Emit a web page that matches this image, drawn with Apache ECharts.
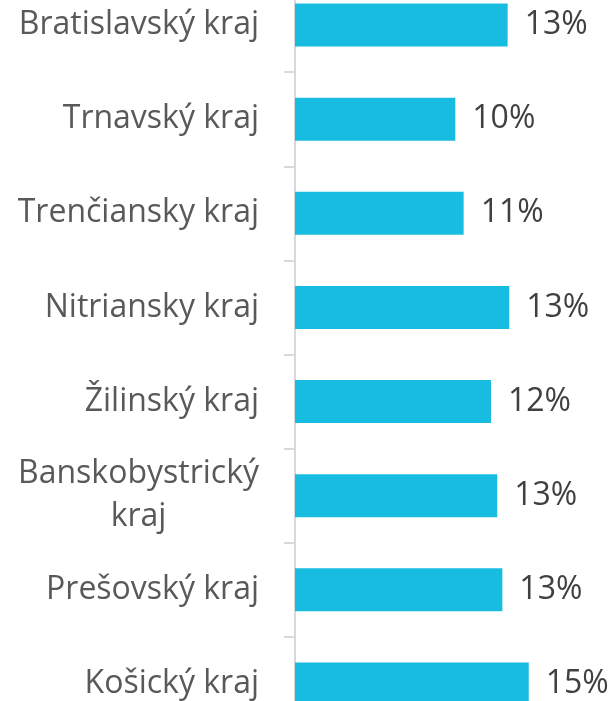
<!DOCTYPE html>
<html>
<head>
<meta charset="utf-8">
<script src="https://cdn.jsdelivr.net/npm/echarts@6/dist/echarts.min.js"></script>
<style>
  html, body { margin: 0; padding: 0; background: #ffffff; }
  #chart { width: 616px; height: 701px; }
</style>
</head>
<body>
<div id="chart"></div>
<script>
const categories = [
  'Bratislavský kraj',
  'Trnavský kraj',
  'Trenčiansky kraj',
  'Nitriansky kraj',
  'Žilinský kraj',
  'Banskobystrický kraj',
  'Prešovský kraj',
  'Košický kraj'
];
const values = [13.29, 10.02, 10.54, 13.39, 12.25, 12.64, 12.96, 14.61];

const FONT = '"Open Sans", "Noto Sans", sans-serif';

const chart = echarts.init(document.getElementById('chart'), null, { renderer: 'canvas' });
chart.setOption({
  animation: false,
  backgroundColor: '#ffffff',
  grid: { left: 293, right: 1, top: -22, bottom: -30, containLabel: false, outerBoundsMode: 'none' },
  xAxis: {
    type: 'value',
    min: -0.125,
    max: 20,
    show: false
  },
  yAxis: {
    type: 'category',
    data: categories,
    inverse: true,
    axisLine: { show: true, lineStyle: { color: '#d9d9d9', width: 2 } },
    axisTick: { show: true, length: 11, lineStyle: { color: '#d9d9d9', width: 2 } },
    splitLine: { show: false },
    axisLabel: {
      margin: 34,
      fontSize: 32,
      fontFamily: FONT,
      color: '#595959',
      lineHeight: 43,
      formatter: function (v) {
        if (v.length > 18) {
          const i = v.lastIndexOf(' ');
          return '{c|' + v.slice(0, i) + '}\n{c|' + v.slice(i + 1) + '}';
        }
        return v;
      },
      rich: {
        c: { align: 'center', fontSize: 32, fontFamily: FONT, color: '#595959', lineHeight: 43 }
      }
    }
  },
  series: [{
    type: 'bar',
    data: values,
    barWidth: 43,
    itemStyle: { color: '#19bce1' },
    label: {
      show: true,
      position: 'right',
      distance: 17,
      fontSize: 32,
      fontFamily: FONT,
      color: '#404040',
      formatter: function (p) { return Math.round(p.value) + '%'; }
    }
  }]
});
</script>
</body>
</html>
